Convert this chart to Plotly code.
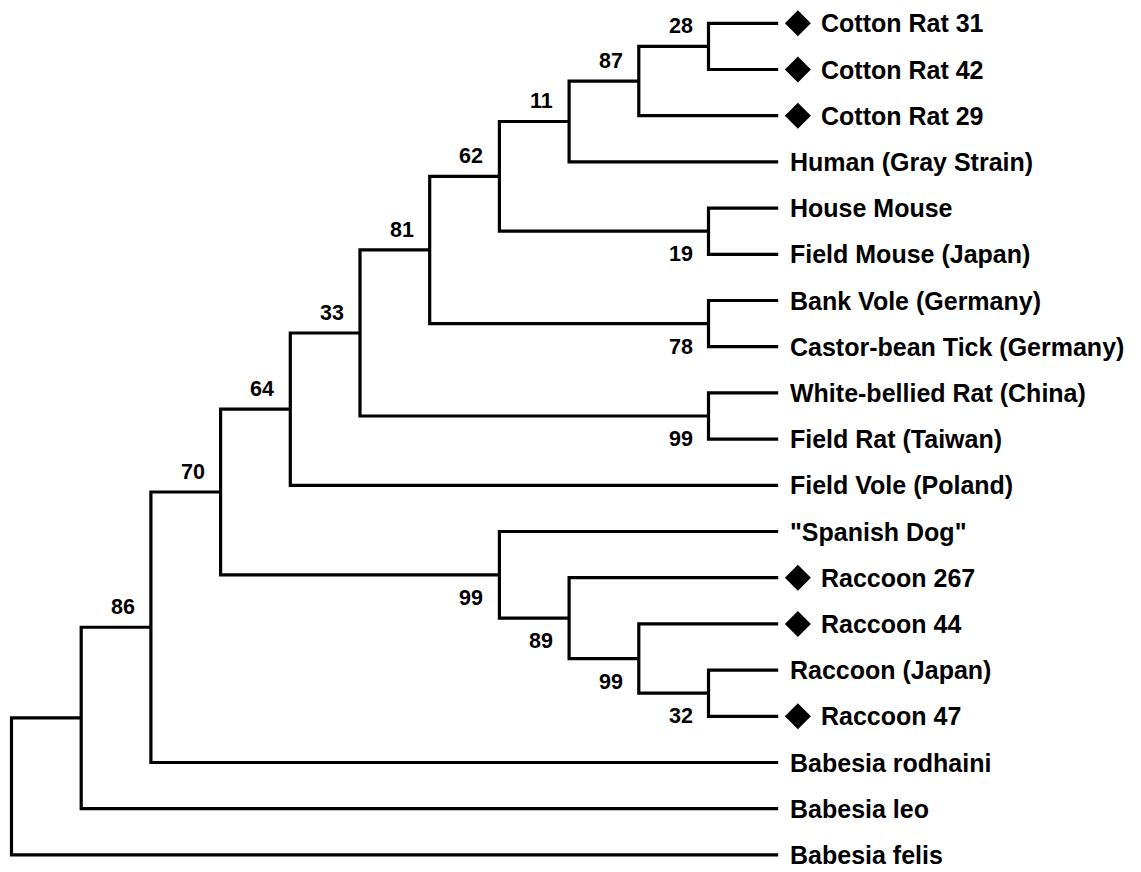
import plotly.graph_objects as go

# ---------------- data ----------------
leaf_names = [
    "Cotton Rat 31", "Cotton Rat 42", "Cotton Rat 29", "Human (Gray Strain)",
    "House Mouse", "Field Mouse (Japan)", "Bank Vole (Germany)",
    "Castor-bean Tick (Germany)", "White-bellied Rat (China)", "Field Rat (Taiwan)",
    "Field Vole (Poland)", "\"Spanish Dog\"", "Raccoon 267", "Raccoon 44",
    "Raccoon (Japan)", "Raccoon 47", "Babesia rodhaini", "Babesia leo", "Babesia felis",
]
marked_leaves = ["Cotton Rat 31", "Cotton Rat 42", "Cotton Rat 29",
                 "Raccoon 267", "Raccoon 44", "Raccoon 47"]

node_names = ["n28", "n87", "n11", "n19", "n62", "n78", "n81", "n99a", "n33", "n64",
              "n32", "n99c", "n89", "n99b", "n70", "n86", "n1", "root"]
node_first = ["Cotton Rat 31", "n28", "n87", "House Mouse", "n11", "Bank Vole (Germany)",
              "n62", "White-bellied Rat (China)", "n81", "n33",
              "Raccoon (Japan)", "Raccoon 44", "Raccoon 267", "\"Spanish Dog\"",
              "n64", "n70", "n86", "n1"]
node_second = ["Cotton Rat 42", "Cotton Rat 29", "Human (Gray Strain)", "Field Mouse (Japan)",
               "n19", "Castor-bean Tick (Germany)", "n78", "Field Rat (Taiwan)", "n99a",
               "Field Vole (Poland)", "Raccoon 47", "n32", "n99c", "n89",
               "n99b", "Babesia rodhaini", "Babesia leo", "Babesia felis"]
node_support = [28, 87, 11, 19, 62, 78, 81, 99, 33, 64, 32, 99, 89, 99, 70, 86, None, None]

# ---------------- layout helpers (pixel scale) ----------------
W, H = 1141, 872
PX_X = 69.7          # px per depth step
X0_PX = 11.5         # px of root
PX_Y = 46.2          # px per leaf row
Y0_PX = 23.3         # px of first leaf

# ---------------- tree geometry ----------------
n_leaf_depth = 11
pos = {}
for i, nm in enumerate(leaf_names):
    pos[nm] = (n_leaf_depth, i)

remaining = list(range(len(node_names)))
while remaining:
    for k in list(remaining):
        a, b = node_first[k], node_second[k]
        if a in pos and b in pos:
            d = min(pos[a][0], pos[b][0]) - 1
            y = (pos[a][1] + pos[b][1]) / 2
            pos[node_names[k]] = (d, y)
            remaining.remove(k)

lx, ly = [], []
for k, nm in enumerate(node_names):
    nx, _ = pos[nm]
    a, b = pos[node_first[k]], pos[node_second[k]]
    lx += [a[0], nx, nx, b[0], None]
    ly += [a[1], a[1], b[1], b[1], None]

fig = go.Figure()
fig.add_trace(go.Scatter(x=lx, y=ly, mode="lines",
                         line=dict(color="black", width=3.2),
                         hoverinfo="skip", showlegend=False))

# diamonds
diamond_offset = 19.7 / PX_X
mx = [pos[n][0] + diamond_offset for n in marked_leaves]
my = [pos[n][1] for n in marked_leaves]
fig.add_trace(go.Scatter(x=mx, y=my, mode="markers",
                         marker=dict(symbol="diamond", size=20, color="black",
                                     line=dict(width=0)),
                         hoverinfo="skip", showlegend=False))

LABEL_FONT = dict(family="Liberation Sans, Arial, sans-serif", size=25, color="black", weight="bold")
NUM_FONT = dict(family="Liberation Sans, Arial, sans-serif", size=21.5, color="black", weight="bold")

for nm in leaf_names:
    d, y = pos[nm]
    shift = 41 if nm in marked_leaves else 10
    fig.add_annotation(x=d, y=y, text=nm, showarrow=False, xanchor="left",
                       yanchor="middle", xshift=shift, yshift=0, font=LABEL_FONT)

# support values
parent_side = {}
for k in range(len(node_names)):
    parent_side[node_first[k]] = "upper"
    parent_side[node_second[k]] = "lower"

for k, nm in enumerate(node_names):
    s = node_support[k]
    if s is None:
        continue
    d, y = pos[nm]
    up = parent_side.get(nm) == "upper"
    fig.add_annotation(x=d, y=y, text=str(s), showarrow=False, xanchor="right",
                       yanchor="middle", xshift=-14, yshift=(20 if up else -23),
                       font=NUM_FONT)

fig.update_layout(
    width=W, height=H, margin=dict(l=0, r=0, t=0, b=0),
    paper_bgcolor="white", plot_bgcolor="white", showlegend=False,
    xaxis=dict(range=[-X0_PX / PX_X, (W - X0_PX) / PX_X], visible=False, fixedrange=True),
    yaxis=dict(range=[(H - Y0_PX) / PX_Y, -Y0_PX / PX_Y], visible=False, fixedrange=True),
)

fig.write_html("out.html", config={"displayModeBar": False},
               post_script="document.body.style.margin='0';document.body.style.overflow='hidden';")
